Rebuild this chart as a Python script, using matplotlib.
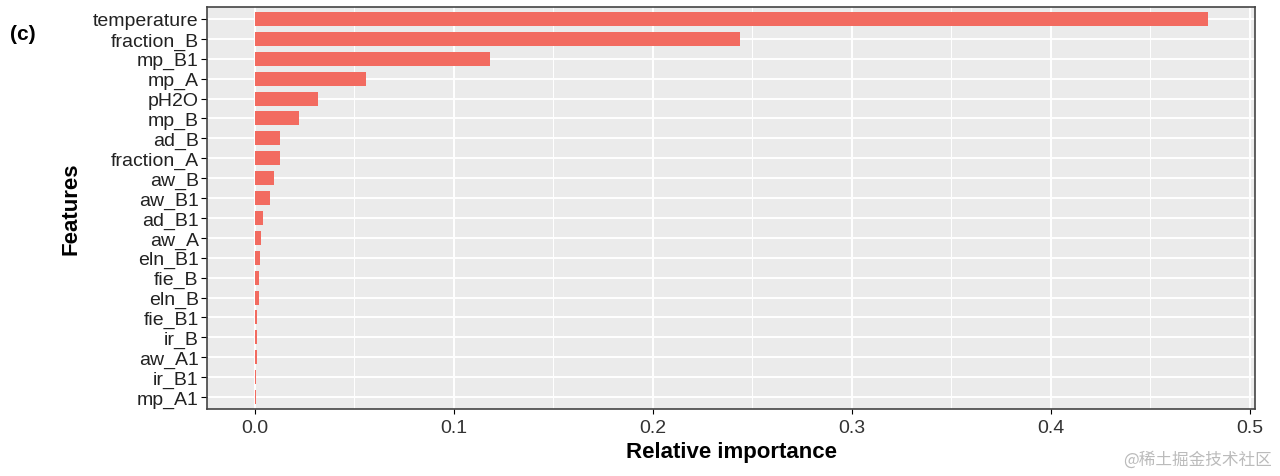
import matplotlib
matplotlib.use("Agg")
import matplotlib.pyplot as plt
plt.rcParams['font.family'] = ['Liberation Sans', 'DejaVu Sans']

features = ["temperature","fraction_B","mp_B1","mp_A","pH2O","mp_B","ad_B","fraction_A",
            "aw_B","aw_B1","ad_B1","aw_A","eln_B1","fie_B","eln_B","fie_B1","ir_B","aw_A1","ir_B1","mp_A1"]
importance = [0.479,0.244,0.118,0.056,0.032,0.022,0.0128,0.0128,0.0095,0.0075,0.0042,0.003,
              0.0024,0.0022,0.0021,0.0013,0.001,0.001,0.0007,0.0004]
xticks = [0.0,0.1,0.2,0.3,0.4,0.5]

fig = plt.figure(figsize=(12.8,4.77), dpi=100)
ax = fig.add_axes([207/1280, 1-410/477, (1255-207)/1280, (410-8)/477])
ax.set_facecolor("#EBEBEB")
n = len(features)
y = list(range(n))[::-1]
ax.barh(y, importance, height=0.7, color="#F26B60", zorder=3)
ax.set_ylim(-0.6, n-0.4)
ax.set_xlim(-0.024, 0.5025)
ax.set_xticks(xticks)
ax.set_xticklabels(["0.0","0.1","0.2","0.3","0.4","0.5"], fontsize=14, color="#333333")
ax.set_xticks([0.05,0.15,0.25,0.35,0.45], minor=True)
ax.set_yticks(y)
ax.set_yticklabels(features, fontsize=14, color="#222222")
ax.grid(True, which="major", color="white", lw=1.4, zorder=0)
ax.grid(True, which="minor", axis="x", color="white", lw=0.7, zorder=0)
for s in ax.spines.values():
    s.set_color("#444444"); s.set_linewidth(1.2)
ax.tick_params(axis="y", length=4, pad=2)
ax.tick_params(axis="x", which="minor", length=0)
ax.set_xlabel("Relative importance", fontsize=16, fontweight="bold")
ax.set_ylabel("Features", fontsize=16, fontweight="bold", labelpad=8)
fig.text(10/1280, 1-40/477, "(c)", fontsize=15, fontweight="bold")
fig.text(1272/1280, 1-465/477, "@稀土掘金技术社区", fontsize=12, color="#BBBBBB", ha="right",
         family=["Noto Sans CJK SC","DejaVu Sans"])
fig.savefig("out.png", dpi=100)
